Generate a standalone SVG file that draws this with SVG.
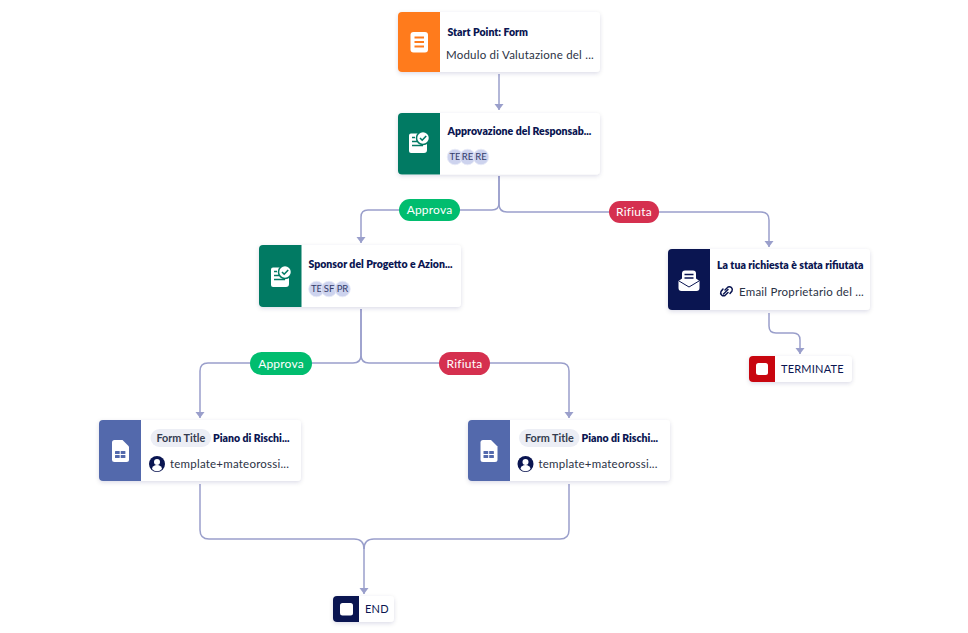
<svg xmlns="http://www.w3.org/2000/svg" width="968" height="633" viewBox="0 0 968 633">
<defs>
<filter id="sh" x="-10%" y="-20%" width="120%" height="145%"><feDropShadow dx="0" dy="1.500" stdDeviation="2" flood-color="#0a1551" flood-opacity="0.14"/></filter>
<marker id="arr" markerUnits="userSpaceOnUse" markerWidth="7" markerHeight="10" refX="6" refY="4.500" orient="auto" viewBox="0 0 7 9"><path d="M0 0L6 4.500L0 9Z" fill="#9a9fcb"/></marker>
<g id="approvalIcon"><path d="M-8-9.500h12.500a3.500 3.500 0 0 0 3.500 3.500v13a3 3 0 0 1-3 3h-13a2 2 0 0 1-2-2v-15.500a2 2 0 0 1 2-2z" fill="#fff"/><circle cx="4" cy="-5" r="6.500" fill="#fff" stroke="#017a63" stroke-width="1.500"/><path d="M1-5l2.200 2.200L7.200-7" fill="none" stroke="#017a63" stroke-width="1.600"/><path d="M-7-5.500h3M-7-1.500h5M-7 2.500h11" stroke="#017a63" stroke-width="1.500" fill="none"/></g>
<g id="sheetIcon"><path d="M-6-11h8l6.500 6.500v13a2.500 2.500 0 0 1-2.500 2.500h-12a2.500 2.500 0 0 1-2.500-2.500v-17a2.500 2.500 0 0 1 2.500-2.500z" fill="#fff"/><g fill="#5369ac"><rect x="-5.500" y="0" width="4.700" height="3" rx=".5"/><rect x=".2" y="0" width="4.700" height="3" rx=".5"/><rect x="-5.500" y="4" width="4.700" height="3" rx=".5"/><rect x=".2" y="4" width="4.700" height="3" rx=".5"/></g></g>
<g id="userIcon"><circle r="8" fill="#0a1551"/><circle cy="-2" r="3" fill="#fff"/><path d="M-5 5a5 4 0 0 1 10 0a6.500 6.500 0 0 1-10 0z" fill="#fff"/></g>
</defs>
<style>
text{font-family:"Lato","Liberation Sans",sans-serif}
.card{fill:#fff;filter:url(#sh)}
.t{font-size:10.500px;font-weight:800;fill:#0a1551}
.s{font-size:11.500px;fill:#2b3245;letter-spacing:.22px}
.av{fill:#cdd3ee;stroke:#e8ebf7;stroke-width:.8}
.avt{font-size:9.500px;fill:#343c6a;text-anchor:middle}
.e{fill:none;stroke:#9a9fcb;stroke-width:1.500}
.end{marker-end:url(#arr)}
.lbl{font-size:12px;fill:#fff;text-anchor:middle;letter-spacing:.2px}
.pill{fill:#eceef5}
.ft{font-size:10.800px;font-weight:700;fill:#343c4f;text-anchor:middle}
.term{font-size:11px;fill:#0a1551;letter-spacing:.2px}
</style>
<rect width="968" height="633" fill="#fff"/>
<g id="connectors">
<path class="e end" d="M499 74V110"/>
<path class="e end" d="M499 176V203Q499 210 492 210H368Q361 210 361 217V243"/>
<path class="e end" d="M499 176V204Q499 212 507 212H761Q769 212 769 220V247"/>
<path class="e end" d="M361 309V355Q361 363 353 363H208Q200 363 200 371V418"/>
<path class="e end" d="M361 309V355Q361 363 369 363H561Q569 363 569 371V418"/>
<path class="e end" d="M769 313V326Q769 333 776 333H793Q800 333 800 340V354"/>
<path class="e" d="M200 484V530Q200 539 209 539H354Q364 539 364 549"/>
<path class="e" d="M569 484V530Q569 539 560 539H374Q364 539 364 549"/>
<path class="e end" d="M364 545V594"/>
</g>
<g id="edge-label-approva-1"><rect x="399" y="199" width="61" height="22" rx="11" fill="#01bd6f"/><text class="lbl" x="429.500" y="214">Approva</text></g>
<g id="edge-label-rifiuta-1"><rect x="609" y="201" width="50" height="22" rx="11" fill="#d5304f"/><text class="lbl" x="634" y="216">Rifiuta</text></g>
<g id="edge-label-approva-2"><rect x="250" y="352" width="62" height="23" rx="11.500" fill="#01bd6f"/><text class="lbl" x="281" y="368">Approva</text></g>
<g id="edge-label-rifiuta-2"><rect x="439" y="352" width="51" height="23" rx="11.500" fill="#d5304f"/><text class="lbl" x="464.500" y="368">Rifiuta</text></g>
<g id="node-start">
<rect class="card" x="398" y="12" width="202" height="60" rx="4"/>
<path d="M402 12H440V72H402a4 4 0 0 1-4-4V16a4 4 0 0 1 4-4z" fill="#ff7b1c"/>
<rect x="410.500" y="32" width="17.500" height="20.500" rx="3" fill="#fff"/>
<path d="M414.500 37.500h9.500M414.500 42h9.500M414.500 46.500h9.500" stroke="#ff7b1c" stroke-width="2" fill="none"/>
<text class="t" x="447.500" y="36">Start Point: Form</text>
<text class="s" x="446" y="59">Modulo di Valutazione del ...</text>
</g>
<g id="node-approval">
<rect class="card" x="398" y="113" width="202" height="61.500" rx="4"/>
<path d="M402 113H440V174.500H402a4 4 0 0 1-4-4V117a4 4 0 0 1 4-4z" fill="#017a63"/>
<use href="#approvalIcon" x="419" y="143"/>
<text class="t" x="447.500" y="135">Approvazione del Responsab...</text>
<circle class="av" cx="455" cy="157" r="7.800"/><text class="avt" x="455" y="160.200">TE</text>
<circle class="av" cx="467.500" cy="157" r="7.800"/><text class="avt" x="467.500" y="160.200">RE</text>
<circle class="av" cx="481" cy="157" r="7.800"/><text class="avt" x="481" y="160.200">RE</text>
</g>
<g id="node-sponsor">
<rect class="card" x="259" y="245" width="202" height="62" rx="4"/>
<path d="M263 245H301.500V307H263a4 4 0 0 1-4-4V249a4 4 0 0 1 4-4z" fill="#017a63"/>
<use href="#approvalIcon" x="281" y="277"/>
<text class="t" x="308.500" y="268">Sponsor del Progetto e Azion...</text>
<circle class="av" cx="316.500" cy="289" r="7.800"/><text class="avt" x="316.500" y="292.200">TE</text>
<circle class="av" cx="329" cy="289" r="7.800"/><text class="avt" x="329" y="292.200">SF</text>
<circle class="av" cx="342.500" cy="289" r="7.800"/><text class="avt" x="342.500" y="292.200">PR</text>
</g>
<g id="node-email">
<rect class="card" x="668" y="249" width="202" height="61" rx="4"/>
<path d="M672 249H710V310H672a4 4 0 0 1-4-4V253a4 4 0 0 1 4-4z" fill="#0a1551"/>
<path d="M678.500 281l3.500-2.500v-5a3 3 0 0 1 3-3h8a3 3 0 0 1 3 3v5l3.500 2.500V288a3 3 0 0 1-3 3H681.500a3 3 0 0 1-3-3z" fill="#fff"/>
<path d="M679 281L689 287L699 281" fill="none" stroke="#0a1551" stroke-width="1"/>
<path d="M684.500 274.500h9M684.500 278h9" stroke="#0a1551" stroke-width="1.500" fill="none"/>
<text class="t" x="717" y="269">La tua richiesta è stata rifiutata</text>
<g fill="none" stroke="#0a1551" stroke-width="1.500" stroke-linecap="round"><path d="M725 290l3-3a3 3 0 0 1 4 4l-2 2.500"/><path d="M728 292.500l-3 3a3 3 0 0 1-4-4l2-2.500"/><path d="M723.500 294l4.500-4.500"/></g>
<text class="s" x="739" y="296">Email Proprietario del ...</text>
</g>
<g id="node-terminate">
<rect class="card" x="749" y="356" width="103" height="26" rx="4"/>
<path d="M753 356H775V382H753a4 4 0 0 1-4-4V360a4 4 0 0 1 4-4z" fill="#c8060f"/>
<rect x="756" y="363" width="12" height="12" rx="2.500" fill="#fff"/>
<text class="term" x="781" y="373">TERMINATE</text>
</g>
<g id="node-form-left">
<rect class="card" x="99" y="420" width="202" height="61" rx="4"/>
<path d="M103 420H141V481H103a4 4 0 0 1-4-4V424a4 4 0 0 1 4-4z" fill="#5369ac"/>
<use href="#sheetIcon" x="120.500" y="451"/>
<rect class="pill" x="150.500" y="429" width="60.500" height="18" rx="9"/>
<text class="ft" x="180.800" y="441.500">Form Title</text>
<text class="t" x="213" y="441.500">Piano di Rischi...</text>
<use href="#userIcon" x="157" y="464"/>
<text class="s" x="170" y="467.500">template+mateorossi...</text>
</g>
<g id="node-form-right">
<rect class="card" x="468" y="420" width="202" height="61" rx="4"/>
<path d="M472 420H510V481H472a4 4 0 0 1-4-4V424a4 4 0 0 1 4-4z" fill="#5369ac"/>
<use href="#sheetIcon" x="489" y="451"/>
<rect class="pill" x="519" y="429" width="60.500" height="18" rx="9"/>
<text class="ft" x="549.300" y="441.500">Form Title</text>
<text class="t" x="581.500" y="441.500">Piano di Rischi...</text>
<use href="#userIcon" x="525.500" y="464"/>
<text class="s" x="538.500" y="467.500">template+mateorossi...</text>
</g>
<g id="node-end">
<rect class="card" x="333" y="596" width="61" height="26" rx="4"/>
<path d="M337 596H359V622H337a4 4 0 0 1-4-4V600a4 4 0 0 1 4-4z" fill="#0a1551"/>
<rect x="340" y="603" width="13" height="12.500" rx="2.500" fill="#fff"/>
<text class="term" x="365" y="613">END</text>
</g>
</svg>
